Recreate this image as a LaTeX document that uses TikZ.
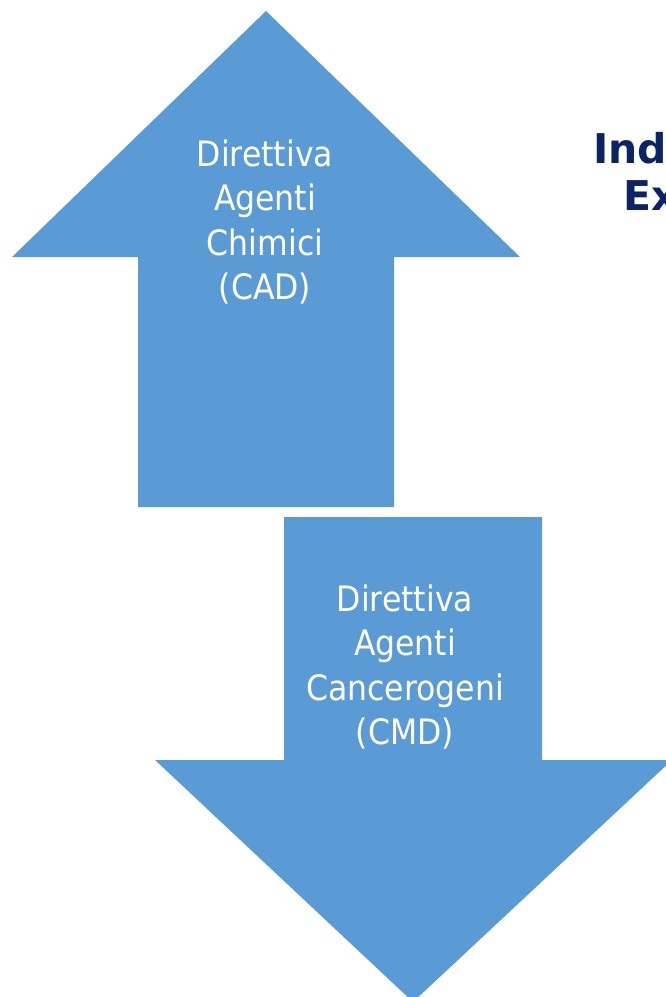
\documentclass[tikz,border=0pt]{standalone}
\usepackage{fontspec}
\setmainfont{DejaVu Sans}[FakeStretch=0.9]
\newfontfamily\titlefont{DejaVu Sans Bold}
\definecolor{arrowblue}{HTML}{5B9BD5}
\definecolor{navy}{HTML}{0C2466}
\begin{document}
\begin{tikzpicture}[x=1pt,y=-1pt,
  arrowshape/.style={fill=arrowblue,draw=none},
  arrowtext/.style={text=white,font=\fontsize{35}{44.5}\selectfont,align=center,inner sep=0pt},
  titletext/.style={text=navy,font=\titlefont\fontsize{41}{47}\selectfont,anchor=base west,inner sep=0pt}]
\useasboundingbox (0,0) rectangle (666,997);
% up arrow
\fill[arrowshape] (266,11) -- (520,257) -- (394,257) -- (394,507) -- (138,507) -- (138,257) -- (12,257) -- cycle;
% down arrow
\fill[arrowshape] (284,517) -- (542,517) -- (542,760) -- (672,760) -- (413,1002) -- (155,760) -- (284,760) -- cycle;
\node[arrowtext] (cad) at (265,222) {Direttiva\\Agenti\\Chimici\\(CAD)};
\node[arrowtext] (cmd) at (405,667) {Direttiva\\Agenti\\Cancerogeni\\(CMD)};
\node[titletext] (ind) at (593,163) {Ind};
\node[titletext] (ex) at (623,210) {Ex};
\end{tikzpicture}
\end{document}
